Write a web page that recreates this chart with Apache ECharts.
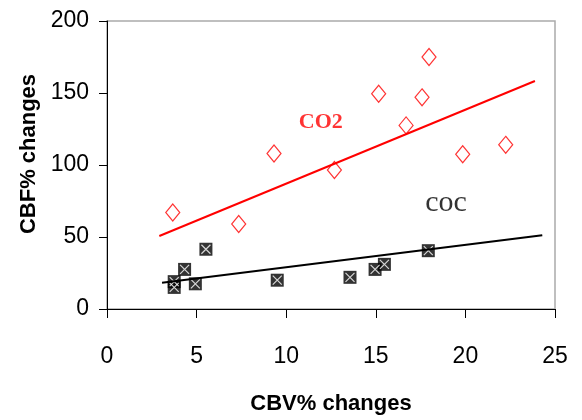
<!DOCTYPE html>
<html>
<head>
<meta charset="utf-8">
<script src="https://cdn.jsdelivr.net/npm/echarts@6/dist/echarts.min.js"></script>
<style>
html,body{margin:0;padding:0;background:#fff;}
#chart{width:582px;height:420px;}
</style>
</head>
<body>
<div id="chart"></div>
<script>
// ---- data ----
var xTicks = [0, 5, 10, 15, 20, 25];
var yTicks = [0, 50, 100, 150, 200];
var xTitle = 'CBV% changes';
var yTitle = 'CBF% changes';

var co2Points = [
  [3.67, 67], [7.35, 59], [9.32, 108], [12.69, 96.5], [15.16, 149.5],
  [16.69, 127.5], [17.58, 147], [17.97, 175], [19.85, 107.5], [22.25, 114]
];
var cocPoints = [
  [3.75, 19], [3.75, 15], [4.33, 27.5], [4.93, 17.5], [5.52, 41.5],
  [9.5, 20], [13.56, 22], [14.96, 27.5], [15.48, 31], [17.93, 40.5]
];
var co2Fit = [[2.92, 50.7], [23.88, 158.3]];
var cocFit = [[3.07, 18.3], [24.29, 51.2]];

var co2Label = ['CO2', 11.93, 129.7];
var cocLabel = ['coc', 18.92, 73.8];

var sansFont = "'Liberation Sans', Arial, sans-serif";
var serifFont = "'Liberation Serif', 'Times New Roman', serif";

var chart = echarts.init(document.getElementById('chart'), null, {renderer: 'canvas'});
chart.setOption({
  animation: false,
  backgroundColor: '#ffffff',
  grid: {
    left: 107, right: 27, top: 21, bottom: 111,
    show: true, borderColor: '#aaaaaa', borderWidth: 1.5, backgroundColor: 'transparent'
  },
  xAxis: {
    type: 'value', min: xTicks[0], max: xTicks[xTicks.length - 1], interval: 5,
    name: xTitle, nameLocation: 'middle', nameGap: 84,
    nameTextStyle: {fontFamily: sansFont, fontWeight: 'bold', fontSize: 22, color: '#000'},
    axisLine: {show: true, onZero: false, lineStyle: {color: '#000', width: 1}},
    axisTick: {show: true, inside: false, length: 9, lineStyle: {color: '#000'}},
    axisLabel: {fontFamily: sansFont, fontSize: 23, color: '#000', margin: 36},
    splitLine: {show: false}
  },
  yAxis: {
    type: 'value', min: yTicks[0], max: yTicks[yTicks.length - 1], interval: 50,
    name: yTitle, nameLocation: 'middle', nameGap: 46, nameRotate: 90,
    nameTextStyle: {fontFamily: sansFont, fontWeight: 'bold', fontSize: 22, color: '#000', padding: [0, 0, 0, 22]},
    axisLine: {show: true, onZero: false, lineStyle: {color: '#000', width: 1}},
    axisTick: {show: true, inside: false, length: 8, lineStyle: {color: '#000'}},
    axisLabel: {fontFamily: sansFont, fontSize: 23, color: '#000', margin: 18},
    splitLine: {show: false}
  },
  series: [
    {
      type: 'line', data: co2Fit, symbol: 'none', silent: true,
      lineStyle: {color: '#ff0000', width: 2}
    },
    {
      type: 'line', data: cocFit, symbol: 'none', silent: true,
      lineStyle: {color: '#000000', width: 2}
    },
    {
      type: 'scatter', data: co2Points, symbol: 'diamond', symbolSize: [14, 17],
      itemStyle: {color: 'rgba(255,255,255,0)', borderColor: '#ff0000', borderWidth: 1.2}
    },
    {
      type: 'scatter', data: cocPoints, symbol: 'rect', symbolSize: 13,
      itemStyle: {color: '#000000'}
    },
    {
      type: 'scatter', data: cocPoints, symbol: 'path://M0,0L10,10M10,0L0,10', symbolSize: 9,
      itemStyle: {color: 'rgba(0,0,0,0)', borderColor: '#ffffff', borderWidth: 1.2}
    },
    {
      type: 'scatter', silent: true, symbolSize: 1,
      data: [[co2Label[1], co2Label[2]]],
      itemStyle: {color: 'rgba(0,0,0,0)'},
      label: {show: true, position: 'inside', formatter: co2Label[0],
        fontFamily: serifFont, fontWeight: 'bold', fontSize: 22, color: '#ff0000'}
    },
    {
      type: 'scatter', silent: true, symbolSize: 1,
      data: [[cocLabel[1], cocLabel[2]]],
      itemStyle: {color: 'rgba(0,0,0,0)'},
      label: {show: true, position: 'inside', formatter: cocLabel[0],
        fontFamily: serifFont, fontSize: 30, color: '#000000'}
    }
  ]
});
</script>
</body>
</html>
